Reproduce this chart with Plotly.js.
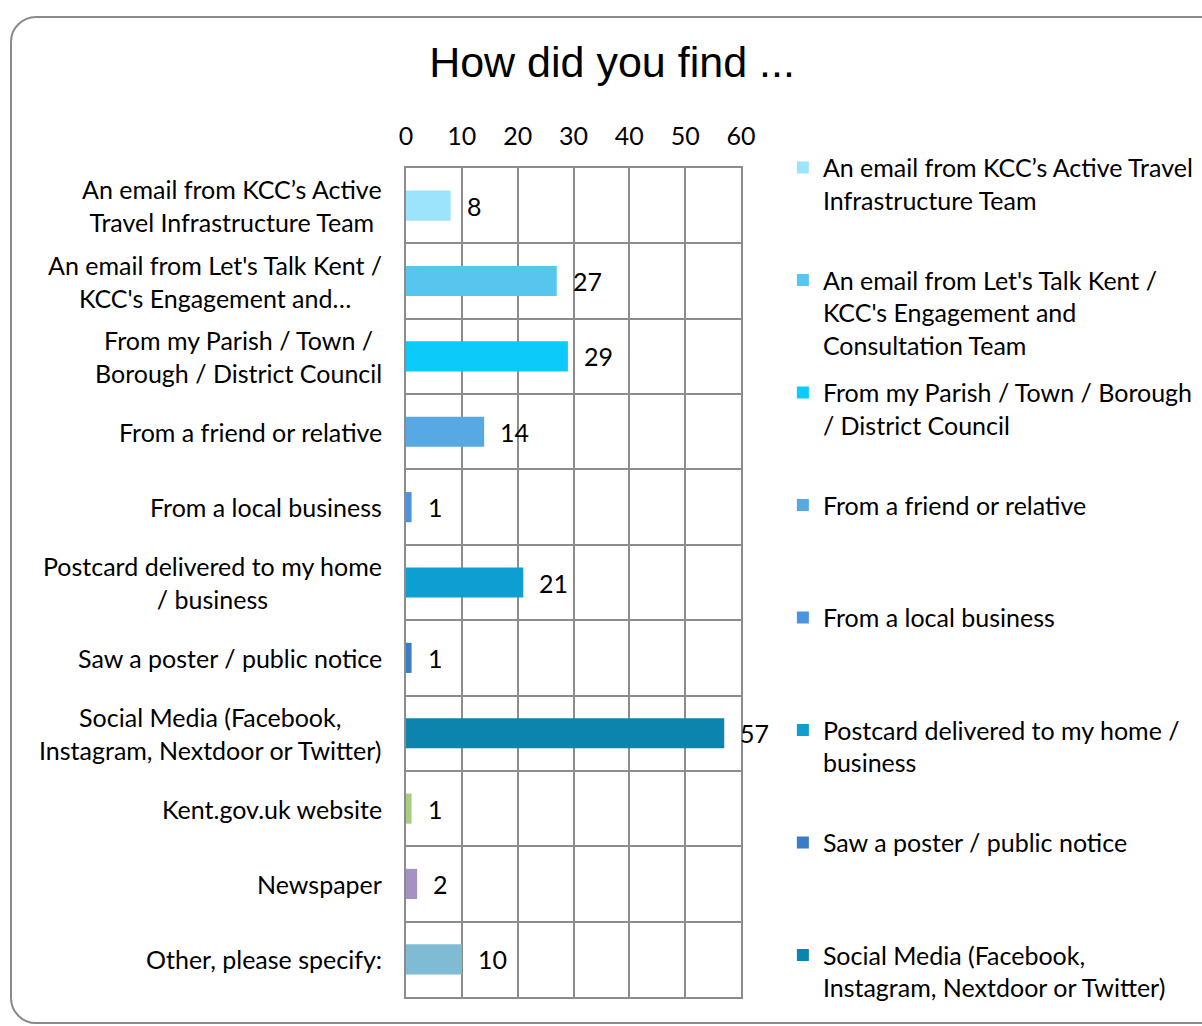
<!DOCTYPE html>
<html>
<head>
<meta charset="utf-8">
<script src="https://cdn.plot.ly/plotly-3.0.1.min.js"></script>
<style>
  html, body { margin: 0; padding: 0; background: #ffffff; overflow: hidden; }
  #frame { position: absolute; left: 10px; top: 16px; width: 1260px; height: 1008px;
           border: 2px solid #8a8a8a; border-radius: 26px; box-sizing: border-box; }
  #chart { position: absolute; left: 0; top: 0; width: 1202px; height: 1026px; }
</style>
</head>
<body>
<div id="frame"></div>
<div id="chart"></div>
<script>
// ---- data ----
const categories = [
  "An email from KCC’s Active<br>Travel Infrastructure Team",
  "An email from Let's Talk Kent /<br>KCC's Engagement and…",
  "From my Parish / Town /<br>Borough / District Council",
  "From a friend or relative",
  "From a local business",
  "Postcard delivered to my home<br>/ business",
  "Saw a poster / public notice",
  "Social Media (Facebook,<br>Instagram, Nextdoor or Twitter)",
  "Kent.gov.uk website",
  "Newspaper",
  "Other, please specify:"
];
const legendNames = [
  "An email from KCC’s Active Travel<br>Infrastructure Team",
  "An email from Let's Talk Kent /<br>KCC's Engagement and<br>Consultation Team",
  "From my Parish / Town / Borough<br>/ District Council",
  "From a friend or relative",
  "From a local business",
  "Postcard delivered to my home /<br>business",
  "Saw a poster / public notice",
  "Social Media (Facebook,<br>Instagram, Nextdoor or Twitter)",
  "Kent.gov.uk website",
  "Newspaper",
  "Other, please specify:"
];
const values = [8, 27, 29, 14, 1, 21, 1, 57, 1, 2, 10];
const colors = ["#9ce4fc", "#56c6ef", "#0ccbfa", "#57a9e6", "#4a94df", "#0c9fcf",
                "#3b7dc5", "#0c84ae", "#a9cc80", "#a392c4", "#7fbcd3"];
const xTicks = [0, 10, 20, 30, 40, 50, 60];
const legendShown = 8;

// ---- build ----
const FONT = "Lato, 'Open Sans', sans-serif";
const gridColor = "#8c8c8c";

function padLines(s, n) {
  const count = s.split("<br>").length;
  let out = s;
  for (let i = count; i < n; i++) out += "<br> ";
  return out;
}

const traces = values.map((v, i) => ({
  type: "bar",
  orientation: "h",
  x: [v],
  y: [i],
  width: 0.4,
  name: (i < legendShown - 1) ? padLines(legendNames[i], 3) : legendNames[i],
  legendgroup: "g" + i,
  showlegend: i < legendShown,
  marker: { color: colors[i], line: { width: 0 } },
  hoverinfo: "x+name"
}));

const valueLabels = values.map((v, i) => ({
  x: v, y: i, xref: "x", yref: "y",
  text: String(v), showarrow: false,
  xanchor: "left", yanchor: "middle", xshift: 14,
  font: { family: FONT, size: 25, color: "#000000" }
}));

const catLabels = categories.map((c, i) => ({
  x: 0, y: i, xref: "paper", yref: "y",
  text: c, showarrow: false, align: "center",
  xanchor: "right", yanchor: "middle", xshift: -22,
  font: { family: FONT, size: 25, color: "#000000" }
}));

const layout = {
  width: 1202, height: 1026,
  paper_bgcolor: "rgba(0,0,0,0)",
  plot_bgcolor: "#ffffff",
  margin: { l: 406, r: 461, t: 168, b: 29, autoexpand: false },
  showlegend: true,
  title: {
    text: "How did you find ...",
    font: { family: "'Liberation Sans', Arial, sans-serif", size: 43, color: "#000000" },
    x: 612 / 1202, xanchor: "center", xref: "container",
    y: 1 - 62 / 1026, yanchor: "middle", yref: "container"
  },
  xaxis: {
    side: "top", range: [0, 60], tickvals: xTicks, ticktext: xTicks.map(String),
    showgrid: true, gridcolor: gridColor, gridwidth: 2,
    showline: true, mirror: true, linecolor: gridColor, linewidth: 2,
    zeroline: false, ticks: "", ticklabelstandoff: 11,
    tickfont: { family: FONT, size: 25, color: "#000000" },
    fixedrange: true
  },
  yaxis: {
    range: [10.5, -0.5], tickvals: categories.map((c, i) => i),
    showticklabels: false, showgrid: false, zeroline: false, ticks: "",
    showline: true, mirror: true, linecolor: gridColor, linewidth: 2,
    minor: { tick0: 0.5, dtick: 1, showgrid: true, gridcolor: gridColor, gridwidth: 2, ticks: "" },
    fixedrange: true
  },
  legend: {
    x: 1.125, xanchor: "left", y: 1.028, yanchor: "top",
    valign: "top", tracegroupgap: 12, maxheight: 1000,
    font: { family: FONT, size: 25, color: "#000000" },
    bgcolor: "rgba(0,0,0,0)", borderwidth: 0
  },
  annotations: valueLabels.concat(catLabels)
};

Plotly.newPlot("chart", traces, layout, { displayModeBar: false, staticPlot: true });
</script>
</body>
</html>
